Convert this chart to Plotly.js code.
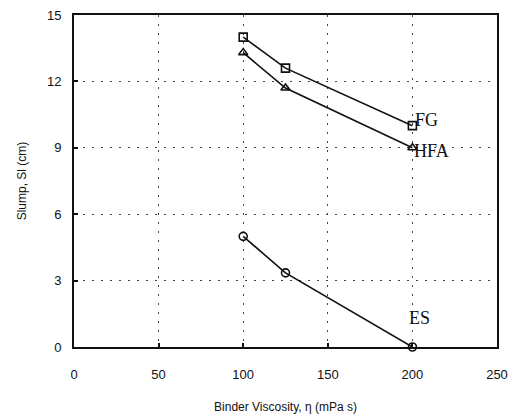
<!DOCTYPE html>
<html><head><meta charset="utf-8">
<script src="https://cdn.plot.ly/plotly-3.0.1.min.js"></script>
<style>html,body{margin:0;padding:0;background:#fff}</style>
</head><body><div id="chart" style="width:517px;height:420px"></div>
<script>
const viscosity = [100, 125, 200];
const slumpFG = [14.0, 12.6, 10.0];
const slumpHFA = [13.3, 11.7, 9.0];
const slumpES = [5.0, 3.35, 0.0];
const seriesNames = ["FG", "HFA", "ES"];
const xTicks = [0, 50, 100, 150, 200, 250];
const yTicks = [0, 3, 6, 9, 12, 15];

const lineStyle = {color: '#111', width: 1.6};
const traces = [
  {x: viscosity, y: slumpFG, name: seriesNames[0], mode: 'lines+markers', line: lineStyle,
   marker: {symbol: 'square-open', size: 8, color: '#111', line: {width: 1.6}}},
  {x: viscosity, y: slumpHFA, name: seriesNames[1], mode: 'lines+markers', line: lineStyle,
   marker: {symbol: 'triangle-up-open', size: 8, color: '#111', line: {width: 1.6}}},
  {x: viscosity, y: slumpES, name: seriesNames[2], mode: 'lines+markers', line: lineStyle,
   marker: {symbol: 'circle-open', size: 8, color: '#111', line: {width: 1.6}}}
];
traces.forEach(t => t.cliponaxis = false);

const serif = {family: 'Liberation Serif, Times New Roman, serif', size: 18, color: '#111'};
const layout = {
  width: 517, height: 420,
  margin: {l: 74, r: 20, t: 15, b: 73},
  paper_bgcolor: '#fff', plot_bgcolor: '#fff',
  showlegend: false,
  font: {family: 'Liberation Sans, Arial, sans-serif', color: '#111'},
  xaxis: {
    range: [0, 250], tickvals: xTicks, ticktext: xTicks.map(String),
    showgrid: true, gridcolor: '#444', griddash: '2px,7px', gridwidth: 1,
    zeroline: false, showline: true, linecolor: '#111', linewidth: 2, mirror: true,
    ticks: 'inside', ticklen: 4, tickwidth: 2, tickcolor: '#111',
    tickfont: {size: 13}, ticklabelstandoff: 14,
    title: {text: 'Binder Viscosity, η (mPa s)', font: {size: 12}, standoff: 22}
  },
  yaxis: {
    range: [0, 15], tickvals: yTicks, ticktext: yTicks.map(String),
    showgrid: true, gridcolor: '#444', griddash: '2px,7px', gridwidth: 1,
    zeroline: false, showline: true, linecolor: '#111', linewidth: 2, mirror: true,
    ticks: 'inside', ticklen: 4, tickwidth: 2, tickcolor: '#111',
    tickfont: {size: 13}, ticklabelstandoff: 8,
    title: {text: 'Slump, Sl (cm)', font: {size: 12}, standoff: 18}
  },
  annotations: [
    {x: viscosity[2], y: slumpFG[2], text: seriesNames[0], xref: 'x', yref: 'y', showarrow: false,
     xanchor: 'left', yanchor: 'bottom', xshift: 1, yshift: -6, font: serif},
    {x: viscosity[2], y: slumpHFA[2], text: seriesNames[1], xref: 'x', yref: 'y', showarrow: false,
     xanchor: 'left', yanchor: 'middle', xshift: 0, yshift: -3, font: serif},
    {x: viscosity[2], y: slumpES[2], text: seriesNames[2], xref: 'x', yref: 'y', showarrow: false,
     xanchor: 'center', yanchor: 'bottom', xshift: 7, yshift: 17, font: serif}
  ]
};
Plotly.newPlot('chart', traces, layout, {displayModeBar: false, staticPlot: true});
</script></body></html>
